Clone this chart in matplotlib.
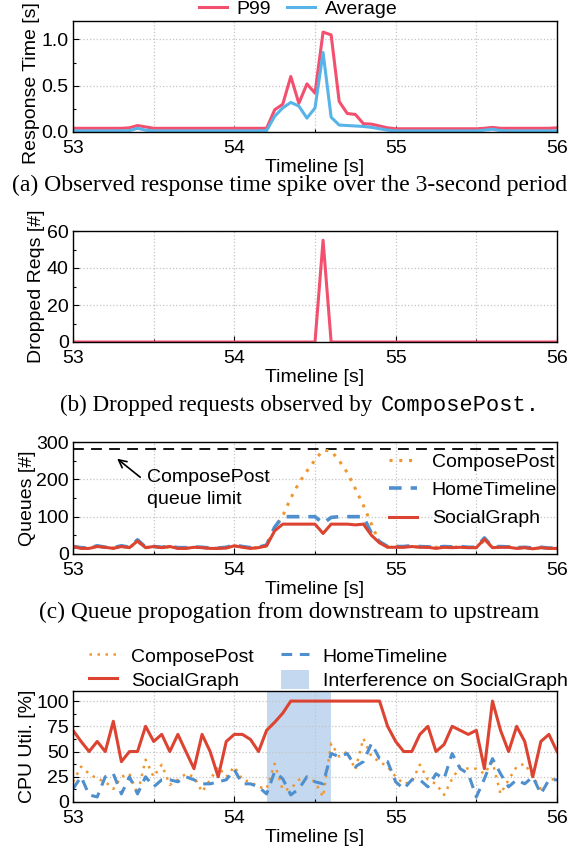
import numpy as np
import matplotlib
matplotlib.use("Agg")
import matplotlib.pyplot as plt
import matplotlib.ticker as ticker
from matplotlib.patches import Patch
from matplotlib.lines import Line2D

# =====================================================
# PLOT STYLE
# =====================================================

plt.rcParams.update({
    "font.family": ["Liberation Sans", "DejaVu Sans"],
    "font.size": 14,
    "axes.labelsize": 14,
    "xtick.labelsize": 14,
    "ytick.labelsize": 14,
    "legend.fontsize": 14,
    "xtick.direction": "in",
    "ytick.direction": "in",
    "axes.linewidth": 1.0,
    "figure.facecolor": "white",
})

RED_PINK = "#f2506e"
LIGHT_BLUE = "#58b4e8"
ORANGE = "#f0962e"
BLUE = "#4f8fce"
RED = "#dc4431"
SHADE = "#c4d9ef"

CAPTION_FONT = ["Liberation Serif", "DejaVu Serif"]
MONO_FONT = ["Liberation Mono", "DejaVu Sans Mono"]

# =====================================================
# DATA (sampled every 50 ms from 53 s to 56 s)
# =====================================================

time_s = np.linspace(53, 56, 61)

# (a) response time [s]
p99 = [0.04, 0.04, 0.04, 0.04, 0.04, 0.04, 0.04, 0.045, 0.07, 0.055,
       0.04, 0.04, 0.04, 0.04, 0.04, 0.04, 0.04, 0.04, 0.04, 0.04,
       0.04, 0.04, 0.04, 0.04, 0.04, 0.24, 0.30, 0.60, 0.31, 0.52,
       0.42, 1.08, 1.05, 0.33, 0.20, 0.19, 0.09, 0.085, 0.065, 0.045,
       0.035, 0.035, 0.035, 0.035, 0.035, 0.035, 0.035, 0.035, 0.035, 0.035,
       0.035, 0.04, 0.05, 0.04, 0.04, 0.04, 0.04, 0.04, 0.04, 0.04,
       0.045]
average = [0.012, 0.012, 0.012, 0.012, 0.012, 0.012, 0.012, 0.015, 0.04, 0.02,
           0.012, 0.012, 0.012, 0.012, 0.012, 0.012, 0.012, 0.012, 0.012, 0.012,
           0.012, 0.012, 0.012, 0.012, 0.015, 0.17, 0.26, 0.32, 0.28, 0.15,
           0.26, 0.86, 0.16, 0.075, 0.07, 0.065, 0.06, 0.05, 0.035, 0.02,
           0.012, 0.012, 0.012, 0.012, 0.012, 0.012, 0.012, 0.012, 0.012, 0.012,
           0.012, 0.02, 0.03, 0.015, 0.012, 0.012, 0.012, 0.012, 0.012, 0.012,
           0.012]

# (b) dropped requests
dropped = [0] * 31 + [55] + [0] * 29

# (c) queue lengths
queue_limit = 280
q_compose = [18, 16, 17, 21, 17, 16, 21, 17, 33, 17,
             19, 18, 19, 16, 16, 18, 17, 16, 15, 17,
             21, 19, 16, 17, 21, 70, 102, 150, 190, 222,
             252, 278, 276, 250, 218, 175, 130, 80, 30, 20,
             20, 21, 20, 19, 18, 18, 19, 18, 19, 17,
             17, 36, 18, 19, 20, 16, 17, 15, 16, 15,
             15]
q_home = [20, 17, 16, 22, 18, 17, 22, 18, 38, 18,
          20, 18, 21, 17, 17, 19, 18, 16, 16, 18,
          24, 20, 17, 18, 24, 72, 100, 100, 100, 100,
          100, 82, 98, 100, 100, 100, 100, 55, 33, 20,
          20, 20, 22, 20, 19, 18, 20, 19, 20, 18,
          18, 43, 19, 20, 19, 17, 18, 16, 18, 16,
          16]
q_social = [20, 15, 15, 20, 18, 15, 20, 17, 35, 17,
            20, 17, 20, 15, 15, 18, 17, 15, 15, 16,
            22, 18, 15, 17, 22, 62, 80, 80, 80, 80,
            80, 55, 80, 80, 80, 78, 80, 50, 30, 18,
            18, 18, 20, 18, 18, 15, 18, 17, 18, 17,
            17, 40, 17, 18, 18, 15, 17, 14, 17, 15,
            15]

# (d) CPU utilisation [%]
cpu_compose = [20, 35, 28, 23, 20, 13, 25, 28, 8, 42,
               25, 37, 17, 22, 28, 25, 10, 22, 35, 25,
               35, 22, 20, 15, 13, 38, 12, 13, 22, 25,
               20, 5, 58, 45, 50, 32, 63, 45, 40, 35,
               25, 18, 20, 37, 22, 18, 7, 23, 35, 33,
               33, 28, 40, 8, 22, 35, 38, 25, 13, 20,
               25]
cpu_home = [13, 25, 7, 5, 25, 28, 8, 25, 8, 25,
            15, 22, 22, 20, 25, 22, 18, 18, 20, 22,
            32, 18, 18, 15, 8, 30, 23, 7, 13, 25,
            20, 18, 48, 45, 48, 35, 40, 58, 43, 40,
            20, 13, 22, 22, 15, 28, 23, 48, 33, 28,
            5, 23, 43, 28, 15, 22, 18, 25, 8, 22,
            22]
cpu_social = [71, 60, 50, 60, 50, 80, 40, 50, 50, 75,
              60, 67, 50, 67, 50, 33, 67, 50, 25, 60,
              67, 67, 62, 50, 71, 79, 88, 100, 100, 100,
              100, 100, 100, 100, 100, 100, 100, 100, 100, 75,
              60, 50, 50, 67, 75, 50, 57, 75, 71, 67,
              71, 33, 100, 71, 50, 75, 60, 25, 60, 67,
              50]
interference = (54.2, 54.6)

captions = [
    "(a) Observed response time spike over the 3-second period",
    "(c) Queue propogation from downstream to upstream",
]

# =====================================================
# FIGURE AND AXES
# =====================================================

W, H = 579, 851
fig = plt.figure(figsize=(W / 100, H / 100), dpi=100)


def add_axes(top_px, bottom_px):
    return fig.add_axes([73 / W, 1 - bottom_px / H, 484 / W, (bottom_px - top_px) / H])


ax_a = add_axes(21, 132)
ax_b = add_axes(231, 342)
ax_c = add_axes(442, 554)
ax_d = add_axes(691, 802)


def style_axes(ax, ymax, ymajor, yminor):
    ax.set_xlim(53, 56)
    ax.set_ylim(0, ymax)
    ax.xaxis.set_major_locator(ticker.MultipleLocator(1))
    ax.xaxis.set_minor_locator(ticker.MultipleLocator(0.5))
    ax.yaxis.set_major_locator(ticker.MultipleLocator(ymajor))
    ax.yaxis.set_minor_locator(ticker.MultipleLocator(yminor))
    ax.tick_params(which="major", length=4, width=0.8)
    ax.tick_params(which="minor", length=2.5, width=0.8)
    ax.tick_params(axis="x", which="major", pad=6)
    ax.tick_params(axis="y", which="major", pad=3)
    ax.grid(which="major", linestyle=":", color="#c4c4c4", linewidth=0.9)
    ax.grid(which="minor", axis="x", linestyle=":", color="#c4c4c4", linewidth=0.9)
    ax.set_axisbelow(True)
    ax.set_xlabel("Timeline [s]", labelpad=1)


# ---- (a) response time
ax_a.plot(time_s, p99, color=RED_PINK, lw=2.2, label="P99")
ax_a.plot(time_s, average, color=LIGHT_BLUE, lw=2.2, label="Average")
style_axes(ax_a, 1.2, 0.5, 0.25)
ax_a.yaxis.set_major_formatter(ticker.FormatStrFormatter("%.1f"))
ax_a.set_ylabel("Response Time [s]", labelpad=1.5)
ax_a.yaxis.label.set_y(0.44)   # nudged down so it stays inside the figure
ax_a.legend(loc="lower center", bbox_to_anchor=(0.465, 1.03), ncol=2,
            frameon=False, handlelength=1.45, handletextpad=0.5,
            columnspacing=0.8, borderaxespad=0, borderpad=0)

# ---- (b) dropped requests
ax_b.plot(time_s, dropped, color=RED_PINK, lw=2.2)
style_axes(ax_b, 60, 20, 10)
ax_b.set_ylabel("Dropped Reqs [#]", labelpad=1.5)

# ---- (c) queues
ax_c.axhline(queue_limit, color="black", lw=1.3, linestyle=(0, (6, 4)))
ax_c.plot(time_s, q_compose, color=ORANGE, lw=2.2, linestyle=(0, (1, 2.2)),
          label="ComposePost")
ax_c.plot(time_s, q_home, color=BLUE, lw=2.6, linestyle=(0, (3.5, 2.5)),
          label="HomeTimeline")
ax_c.plot(time_s, q_social, color=RED, lw=2.2, label="SocialGraph")
style_axes(ax_c, 300, 100, 50)
ax_c.set_ylabel("Queues [#]", labelpad=0.5)
ax_c.annotate("", xy=(53.26, 260), xytext=(53.43, 201),
              arrowprops=dict(arrowstyle="->", color="black", lw=1.2))
ax_c.text(53.46, 176, "ComposePost\nqueue limit", ha="left", va="center",
          linespacing=1.4)
ax_c.legend(loc="upper right", bbox_to_anchor=(1.0, 0.9), frameon=False,
            handlelength=1.45, handletextpad=0.75, labelspacing=0.55,
            borderaxespad=0, borderpad=0)

# ---- (d) CPU utilisation
ax_d.axvspan(interference[0], interference[1], color=SHADE, lw=0, zorder=0.5)
ax_d.plot(time_s, cpu_compose, color=ORANGE, lw=1.8, linestyle=(0, (1, 2.2)))
ax_d.plot(time_s, cpu_home, color=BLUE, lw=2.2, linestyle=(0, (3.5, 2.5)))
ax_d.plot(time_s, cpu_social, color=RED, lw=2.2)
style_axes(ax_d, 110, 25, 12.5)
ax_d.set_ylabel("CPU Util. [%]", labelpad=0.5)

handles = [
    Line2D([], [], color=ORANGE, lw=1.8, linestyle=(0, (1, 2.2))),
    Line2D([], [], color=RED, lw=2.2),
    Line2D([], [], color=BLUE, lw=2.2, linestyle=(0, (3.5, 2.5))),
    Patch(facecolor=SHADE, edgecolor="none"),
]
labels = ["ComposePost", "SocialGraph", "HomeTimeline", "Interference on SocialGraph"]
fig.legend(handles, labels, loc="lower left", bbox_to_anchor=(89 / W, 1 - 690 / H),
           ncol=2, frameon=False, handlelength=1.45, handleheight=1.15,
           handletextpad=0.7, columnspacing=1.4, labelspacing=0.2,
           borderaxespad=0, borderpad=0)

# =====================================================
# CAPTIONS
# =====================================================

fig.text(0.5, 1 - 185 / H, captions[0], ha="center", va="center",
         family=CAPTION_FONT, fontsize=17)
fig.text(372 / W, 1 - 405 / H, "(b) Dropped requests observed by", ha="right",
         va="center", family=CAPTION_FONT, fontsize=16.6)
fig.text(381 / W, 1 - 405 / H, "ComposePost.", ha="left", va="center",
         family=MONO_FONT, fontsize=15.8)
fig.text(0.5, 1 - 612 / H, captions[1], ha="center", va="center",
         family=CAPTION_FONT, fontsize=16.8)

fig.savefig("out.png", dpi=100, facecolor="white")
